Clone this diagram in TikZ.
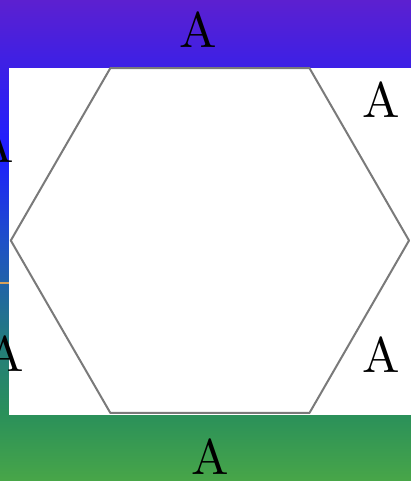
\documentclass[tikz,border=0pt]{standalone}
\usetikzlibrary{calc}
\definecolor{ink}{HTML}{000000}
\definecolor{edge}{HTML}{7A7A7A}
\definecolor{tick}{HTML}{D6A15C}
\definecolor{bgGreen}{HTML}{48A648}
\definecolor{bgLeaf}{HTML}{2A905A}
\definecolor{bgTeal}{HTML}{237A80}
\definecolor{bgSea}{HTML}{1E50C8}
\definecolor{bgBlue}{HTML}{1E1EFF}
\definecolor{bgIris}{HTML}{3C20E6}
\definecolor{bgViolet}{HTML}{5C20D0}
\pgfdeclareverticalshading{backdrop}{100bp}{color(0bp)=(bgGreen); color(25bp)=(bgGreen);
  color(32bp)=(bgLeaf); color(40bp)=(bgTeal); color(50bp)=(bgSea);
  color(59bp)=(bgBlue); color(68bp)=(bgIris); color(75bp)=(bgViolet); color(100bp)=(bgViolet)}
\begin{document}
\begin{tikzpicture}[text=ink,
  hexline/.style={draw=edge,line width=0.4pt,line join=round}]
  \useasboundingbox (-1.476,-1.691) rectangle (1.413,1.691);
  \shade[shading=backdrop] (-1.476,-1.691) rectangle (1.413,1.691);
  \draw[tick,line width=0.4pt] (-1.476,-0.299) -- (-1.413,-0.299);
  \fill[white] (-1.413,-1.227) rectangle (1.413,1.2125);

  % the hexagon
  \draw[hexline] (0:1.40) \foreach \a in {60,120,...,300}{ -- (\a:1.40)} -- cycle;

  % letters round it
  \node (lblN)  at (-0.084,1.480)  {A};
  \node (lblNE) at (1.202,0.988)   {A};
  \node (lblSE) at (1.202,-0.801)  {A};
  \node (lblS)  at (0,-1.522)      {A};
  \node (lblSW) at (-1.441,-0.794) {A};
  \node (lblNW) at (-1.511,0.671)  {A};
\end{tikzpicture}
\end{document}
